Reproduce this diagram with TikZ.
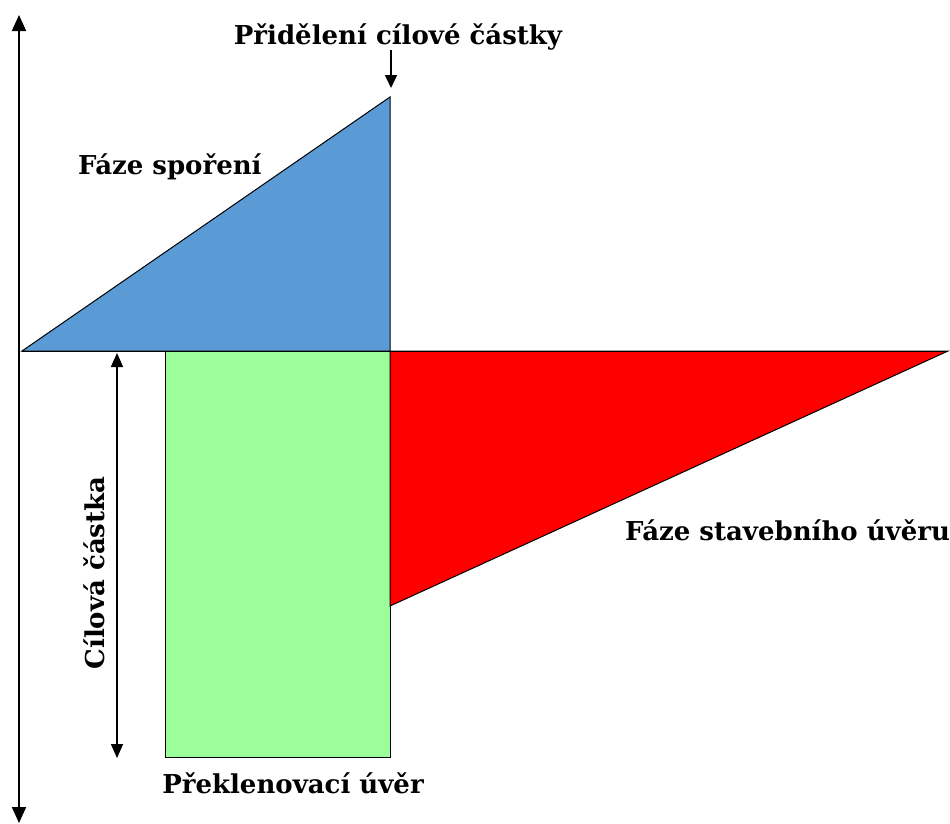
\documentclass[tikz,border=0pt]{standalone}
\usepackage{fontspec}
\setmainfont{DejaVu Serif}
\usetikzlibrary{arrows.meta}
\definecolor{sporblue}{HTML}{5B9BD5}
\definecolor{bridgegreen}{HTML}{9CFE9A}
\definecolor{loanred}{HTML}{FF0000}
\tikzset{
  area/.style={draw=black, line width=1pt, line join=miter},
  axisarrow/.style={line width=2pt, {Triangle[width=14pt,length=16pt]}-{Triangle[width=14pt,length=16pt]}},
  dimarrow/.style={line width=1.5pt, {Triangle[width=12pt,length=14pt]}-{Triangle[width=12pt,length=14pt]}},
  markarrow/.style={line width=1.5pt, -{Triangle[width=12pt,length=13pt]}},
  lbl/.style={font=\bfseries\fontsize{26}{30}\selectfont, inner sep=0pt}
}
\begin{document}
\begin{tikzpicture}[x=1pt,y=-1pt]
\useasboundingbox (0,0) rectangle (950,823);
\coordinate (O) at (22,351);
\coordinate (A) at (390,97);
\coordinate (B) at (390,351);
\coordinate (E) at (948,351);
\coordinate (R) at (390,606);
\coordinate (G1) at (165,351);
\coordinate (G2) at (390,757);
\coordinate (axtop) at (19,15);
\coordinate (axbot) at (19,823);
\coordinate (dimtop) at (117,353);
\coordinate (dimbot) at (117,758);
\coordinate (mtop) at (391,50);
\coordinate (mbot) at (391,88);
% shapes
\draw[area, fill=bridgegreen] (G1) rectangle (G2);
\draw[area, fill=sporblue] (O) -- (A) -- (B) -- cycle;
\draw[area, fill=loanred] (B) -- (E) -- (R) -- cycle;
\draw[line width=1pt] (O) -- (E);
% arrows
\draw[axisarrow] (axbot) -- (axtop);
\draw[dimarrow] (dimtop) -- (dimbot);
\draw[markarrow] (mtop) -- (mbot);
% labels
\node[lbl] (t1) at (398,37) {Přidělení cílové částky};
\node[lbl, anchor=west] (t2) at (78,167) {Fáze spoření};
\node[lbl, anchor=west] (t3) at (625,530) {Fáze stavebního úvěru};
\node[lbl, rotate=90] (t4) at (94,573) {Cílová částka};
\node[lbl] (t5) at (293,783) {Překlenovací úvěr};
\end{tikzpicture}
\end{document}
